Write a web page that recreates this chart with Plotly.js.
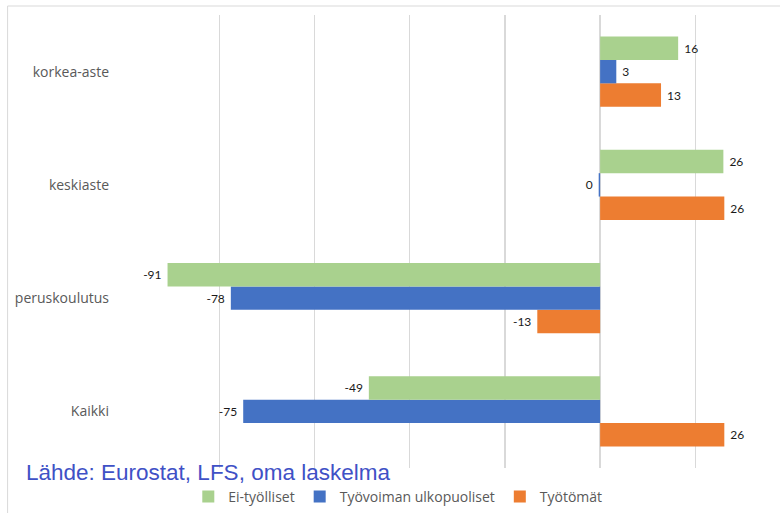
<!DOCTYPE html>
<html>
<head>
<meta charset="utf-8">
<script src="https://cdn.plot.ly/plotly-3.0.1.min.js"></script>
<style>
  html, body { margin: 0; padding: 0; background: #fff; }
  #chart { width: 780px; height: 513px; }
</style>
</head>
<body>
<div id="chart"></div>
<script>
// Categories (bottom to top)
const categories = ["Kaikki", "peruskoulutus", "keskiaste", "korkea-aste"];
// Series values
const eiTyolliset = [-48.6, -90.9, 25.9, 16.4];
const tyovoimanUlkopuoliset = [-75.0, -77.6, -0.3, 3.4];
const tyottomat = [26.1, -13.2, 26.1, 12.8];
const seriesNames = ["Ei-työlliset", "Työvoiman ulkopuoliset", "Työtömät"];
const seriesColors = ["#A9D18E", "#4472C4", "#ED7D31"];
const sourceText = "Lähde: Eurostat, LFS, oma laskelma";

const labelFont = { family: "Lato, 'Liberation Sans', sans-serif", size: 12, color: "#1a1a1a" };

function fmt(v) {
  const r = Math.round(v);
  const s = (r === 0) ? "0" : String(r);
  return v < 0 ? s + "\u2005" : "\u2005" + s;
}

function mk(vals, i) {
  return {
    type: "bar",
    orientation: "h",
    y: categories,
    x: vals,
    name: seriesNames[i],
    marker: { color: seriesColors[i], line: { width: 0 } },
    text: vals.map(fmt),
    texttemplate: "%{text}",
    textposition: "outside",
    textfont: labelFont,
    cliponaxis: false,
    hoverinfo: "skip"
  };
}

// order: orange first (bottom in group), green last (top in group)
const data = [mk(tyottomat, 2), mk(tyovoimanUlkopuoliset, 1), mk(eiTyolliset, 0)];

const L = 123.5, R = 780, T = 15, B = 468;
const pw = R - L, ph = B - T;
const px = x => (x - L) / pw;
const py = y => (B - y) / ph;

const layout = {
  width: 780, height: 513,
  margin: { l: L, r: 0, t: T, b: 513 - B, pad: 0 },
  paper_bgcolor: "#fff", plot_bgcolor: "#fff",
  barmode: "group",
  bargap: 0.38, bargroupgap: 0,
  showlegend: true,
  xaxis: {
    range: [-100.05, 37.8],
    dtick: 20, tick0: 0,
    showticklabels: false,
    showgrid: true, gridcolor: "#d9d9d9", gridwidth: 1.3,
    zeroline: false, showline: false, ticks: "",
    fixedrange: true
  },
  yaxis: {
    type: "category",
    categoryorder: "array", categoryarray: categories,
    showgrid: false, zeroline: false, showline: false, ticks: "",
    ticklabelstandoff: 14,
    tickfont: { family: "'Open Sans', 'Liberation Sans', sans-serif", size: 14, color: "#595959" },
    fixedrange: true
  },
  legend: {
    orientation: "h",
    traceorder: "reversed",
    xref: "container", yref: "container",
    x: 0.51, xanchor: "center",
    y: 1 - 497 / 513, yanchor: "middle",
    font: { family: "'Open Sans', 'Liberation Sans', sans-serif", size: 14, color: "#595959" },
    itemwidth: 30,
    bgcolor: "rgba(0,0,0,0)"
  },
  annotations: [{
    text: sourceText,
    xref: "paper", yref: "paper",
    x: px(23), xanchor: "left",
    y: py(472), yanchor: "middle",
    showarrow: false,
    font: { family: "'Liberation Sans', Arial, sans-serif", size: 22.5, color: "#3F51C6" }
  }],
  shapes: [
    { type: "line", xref: "paper", yref: "paper", x0: px(7), x1: px(790), y0: py(6), y1: py(6),
      line: { color: "#d9d9d9", width: 1 } },
    { type: "line", xref: "paper", yref: "paper", x0: px(7), x1: px(7), y0: py(6), y1: py(520),
      line: { color: "#d9d9d9", width: 1 } }
  ]
};

Plotly.newPlot("chart", data, layout, { displayModeBar: false, staticPlot: true });
</script>
</body>
</html>
